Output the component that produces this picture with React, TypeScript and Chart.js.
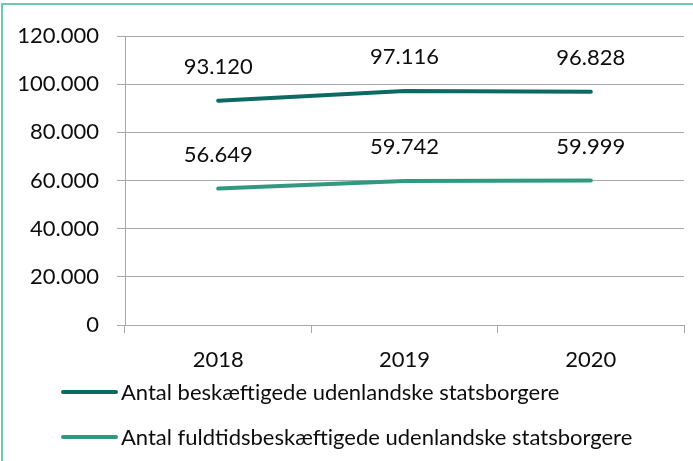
import React, { useEffect, useRef } from "react";
import { Chart, registerables } from "chart.js";

Chart.register(...registerables);

const years = ["2018", "2019", "2020"];
const employed = [93120, 97116, 96828];
const fullTimeEmployed = [56649, 59742, 59999];
const seriesNames = [
  "Antal beskæftigede udenlandske statsborgere",
  "Antal fuldtidsbeskæftigede udenlandske statsborgere",
];
const seriesColors = ["#0c6a62", "#31997e"];
const yMin = 0;
const yMax = 120000;
const yStep = 20000;

const FONT = "Lato";
const FONT_SIZE = 22;

const fmt = (v: number) =>
  String(Math.round(v)).replace(/\B(?=(\d{3})+(?!\d))/g, ".");

const dataLabelPlugin = {
  id: "dataLabels",
  afterDatasetsDraw(chart: any) {
    const ctx = chart.ctx;
    ctx.save();
    ctx.font = `${FONT_SIZE}px ${FONT}`;
    ctx.fillStyle = "#0d0d0d";
    ctx.textAlign = "center";
    ctx.textBaseline = "middle";
    chart.data.datasets.forEach((ds: any, i: number) => {
      const meta = chart.getDatasetMeta(i);
      meta.data.forEach((pt: any, j: number) => {
        ctx.fillText(fmt(ds.data[j]), pt.x, pt.y - 34);
      });
    });
    ctx.restore();
  },
};

const legendPlugin = {
  id: "customLegend",
  afterDraw(chart: any) {
    const ctx = chart.ctx;
    const area = chart.chartArea;
    ctx.save();
    ctx.font = `${FONT_SIZE}px ${FONT}`;
    ctx.textAlign = "left";
    ctx.textBaseline = "middle";
    chart.data.datasets.forEach((ds: any, i: number) => {
      const y = area.bottom + 67 + i * 45;
      const x0 = area.left - 62;
      ctx.strokeStyle = ds.borderColor;
      ctx.lineWidth = 4;
      ctx.lineCap = "round";
      ctx.beginPath();
      ctx.moveTo(x0, y);
      ctx.lineTo(x0 + 53, y);
      ctx.stroke();
      ctx.fillStyle = "#0d0d0d";
      ctx.fillText(ds.label, x0 + 58, y + 1);
    });
    ctx.restore();
  },
};

export default function App() {
  const canvasRef = useRef<HTMLCanvasElement | null>(null);

  useEffect(() => {
    document.body.style.margin = "0";
    const canvas = canvasRef.current;
    if (!canvas) return;
    const chart = new Chart(canvas, {
      type: "line",
      data: {
        labels: years,
        datasets: [
          {
            label: seriesNames[0],
            data: employed,
            borderColor: seriesColors[0],
            backgroundColor: seriesColors[0],
            borderWidth: 4,
            borderCapStyle: "round",
            pointRadius: 0,
            tension: 0,
          },
          {
            label: seriesNames[1],
            data: fullTimeEmployed,
            borderColor: seriesColors[1],
            backgroundColor: seriesColors[1],
            borderWidth: 4,
            borderCapStyle: "round",
            pointRadius: 0,
            tension: 0,
          },
        ],
      },
      options: {
        responsive: false,
        animation: false,
        layout: { padding: { top: 36, right: 9, left: 0, bottom: 86 } },
        plugins: {
          legend: { display: false },
          tooltip: { enabled: false },
          title: { display: false },
        },
        scales: {
          x: {
            offset: true,
            grid: {
              offset: true,
              drawOnChartArea: false,
              drawTicks: true,
              tickLength: 8,
              color: "#a8a8a8",
            },
            border: { display: false },
            ticks: {
              color: "#0d0d0d",
              font: { family: FONT, size: FONT_SIZE },
              padding: 14,
              maxRotation: 0,
            },
            afterFit: (s: any) => {
              s.height = 50;
            },
          },
          y: {
            min: yMin,
            max: yMax,
            grid: {
              color: "#a8a8a8",
              tickLength: 8,
              lineWidth: 1,
            },
            border: { display: true, color: "#a8a8a8" },
            ticks: {
              stepSize: yStep,
              color: "#0d0d0d",
              font: { family: FONT, size: FONT_SIZE },
              padding: 18,
              callback: (v: any) => fmt(Number(v)),
            },
            afterFit: (s: any) => {
              s.width = 125;
            },
          },
        },
      },
      plugins: [dataLabelPlugin, legendPlugin],
    });
    return () => chart.destroy();
  }, []);

  return (
    <div
      style={{
        position: "absolute",
        left: 0,
        top: 0,
        width: 693,
        height: 461,
        overflow: "hidden",
        background: "#ffffff",
      }}
    >
      <div
        style={{
          position: "absolute",
          left: 1,
          top: 3,
          width: 720,
          height: 500,
          borderLeft: "2px solid #6ccbae",
          borderTop: "2px solid #6ccbae",
          boxSizing: "border-box",
        }}
      />
      <canvas
        ref={canvasRef}
        width={693}
        height={461}
        style={{ position: "absolute", left: 0, top: 0, width: 693, height: 461 }}
      />
    </div>
  );
}
